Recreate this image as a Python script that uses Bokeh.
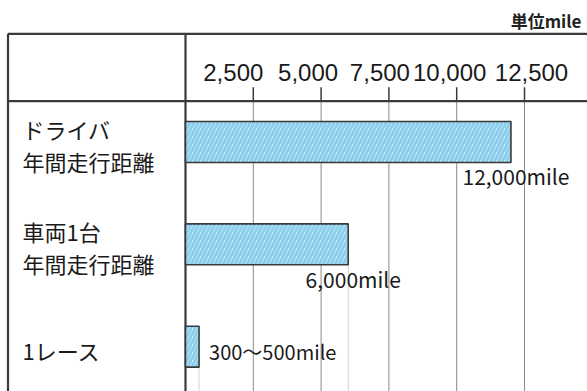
from bokeh.plotting import figure
from bokeh.models import Range1d
from bokeh.core.properties import value
from bokeh.embed import file_html
from bokeh.resources import INLINE

# --- data ---
categories = ["ドライバ\n年間走行距離", "車両1台\n年間走行距離", "1レース"]
distances = [12000, 6000, 500]
distance_labels = ["12,000mile", "6,000mile", "300～500mile"]
tick_values = [2500, 5000, 7500, 10000, 12500]
tick_labels = ["2,500", "5,000", "7,500", "10,000", "12,500"]
unit_label = "単位mile"

# --- layout helpers (screen pixel -> data coordinate) ---
W, H = 587, 391
X0_PX = 185.0          # left edge of the value column (value 0)
PX_PER_UNIT = 0.02712  # horizontal scale
ROW0_PX = 141.5        # centre of the first row
ROW_PX = 102.35        # row pitch


def xd(px):
    return (px - X0_PX) / PX_PER_UNIT


def yd(px):
    return (px - ROW0_PX) / ROW_PX


JP = value("Noto Sans CJK JP")
LINE = "#3a3a3a"
rows = list(range(len(categories)))

p = figure(width=W, height=H, output_backend="svg", toolbar_location=None,
           x_range=Range1d(xd(0), xd(W)), y_range=Range1d(yd(H), yd(0)),
           x_axis_type=None, y_axis_type=None, min_border=0,
           background_fill_color="white", border_fill_color="white",
           outline_line_color=None)
p.grid.visible = False

# vertical grid lines in the body of the table
p.segment(x0=tick_values, x1=tick_values, y0=[yd(100.7)] * len(tick_values),
          y1=[yd(H)] * len(tick_values), line_color="#8a8a8a", line_width=1)

# faint leader lines below the shorter bars
p.segment(x0=distances[1:], x1=distances[1:],
          y0=[r + 0.2 for r in rows[1:]], y1=[yd(H)] * (len(rows) - 1),
          line_color="#d4d4d4", line_width=1)

# tick marks in the header
p.segment(x0=tick_values, x1=tick_values, y0=[yd(86.7)] * len(tick_values),
          y1=[yd(100.7)] * len(tick_values), line_color=LINE, line_width=1.5)

# table frame
left, right = xd(7.5), xd(W + 5)
top, header = yd(33.3), yd(100.7)
p.segment(x0=[left, left, left, 0], x1=[right, right, left, 0],
          y0=[top, header, top, top], y1=[top, header, yd(H + 5), yd(H + 5)],
          line_color=LINE, line_width=2.2)

# bars
p.hbar(y=rows, left=0, right=distances, height=0.4,
       fill_color="#d6eef9", line_color=LINE, line_width=1.6,
       hatch_pattern="right_diagonal_line", hatch_color="#8acdec",
       hatch_scale=8, hatch_weight=3)

# header tick labels
label_shift = [-20, -13, -9, -7, 7]
p.text(x=tick_values, y=[yd(72)] * len(tick_values), text=tick_labels,
       x_offset=label_shift, text_align="center", text_baseline="middle",
       text_font=value("Liberation Sans"),
       text_font_size="24px", text_color="#1a1a1a")

# unit label
p.text(x=[xd(581)], y=[yd(20)], text=[unit_label], text_align="right",
       text_baseline="middle", text_font=JP, text_font_size="17px",
       text_font_style="bold", text_color="#222222")

# row labels
p.text(x=[xd(22)] * len(rows), y=[r + 0.03 for r in rows], text=categories,
       text_align="left", text_baseline="middle", text_font=JP,
       text_font_size="22px", text_line_height=1.0, text_color="#1a1a1a")

# value labels: below the long bars, beside the short one
p.text(x=distances[:2], y=[r + 0.2 for r in rows[:2]], text=distance_labels[:2],
       x_offset=5, y_offset=-1, text_align="center", text_baseline="top",
       text_font=JP, text_font_size="21px", text_color="#1a1a1a")
p.text(x=distances[2:], y=rows[2:], text=distance_labels[2:],
       x_offset=10, y_offset=5, text_align="left", text_baseline="middle",
       text_font=JP, text_font_size="20px", text_color="#1a1a1a")

open("out.html", "w").write(file_html(p, INLINE))
